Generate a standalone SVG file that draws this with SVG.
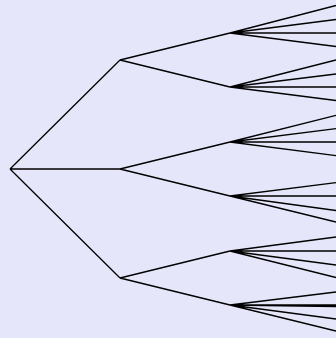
<svg xmlns="http://www.w3.org/2000/svg" width="336" height="338" viewBox="0 0 336 338">
<style>
.e{stroke:#000;stroke-width:1.3;fill:none}
</style>
<rect width="336" height="338" fill="#e6e6fa"/>
<g id="connectors" class="e">
<path d="M10 169L120 60M10 169L120 169M10 169L120 278"/>
<path d="M120 60L230 33M120 60L230 87M120 169L230 142M120 169L230 196M120 278L230 251M120 278L230 305"/>
<path d="M230 33L336 5.5M230 33L336 19.5M230 33L336 33M230 33L336 46.5"/>
<path d="M230 87L336 60M230 87L336 74M230 87L336 87M230 87L336 100.5"/>
<path d="M230 142L336 115.3M230 142L336 128.7M230 142L336 142M230 142L336 155.7"/>
<path d="M230 196L336 182.7M230 196L336 196M230 196L336 210.5M230 196L336 222"/>
<path d="M230 251L336 237M230 251L336 251M230 251L336 265M230 251L336 277.5"/>
<path d="M230 305L336 292M230 305L336 305M230 305L336 306.5M230 305L336 319M230 305L336 331"/>
</g>
</svg>
